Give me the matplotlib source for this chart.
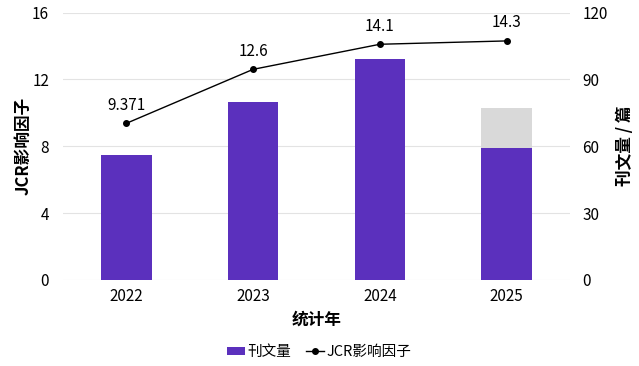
import matplotlib
matplotlib.use("Agg")
import matplotlib.pyplot as plt
import numpy as np

plt.rcParams['font.family'] = ['Noto Sans CJK SC', 'DejaVu Sans']

years = ["2022", "2023", "2024", "2025"]
articles = [56, 80, 99, 59]
articles_extra = [0, 0, 0, 18]
jcr_if = [9.371, 12.6, 14.1, 14.3]
jcr_labels = ["9.371", "12.6", "14.1", "14.3"]

purple = "#5B30BD"
grey = "#D9D9D9"

fig = plt.figure(figsize=(6.39, 3.66), dpi=100)
ax = fig.add_axes([63/639, 1-280/366, 507/639, 267.5/366])
ax2 = ax.twinx()

x = np.arange(len(years))
ax2.bar(x, articles, width=0.4, color=purple, label="刊文量", zorder=2)
ax2.bar(x, articles_extra, width=0.4, bottom=articles, color=grey, zorder=2)
ax2.set_ylim(0, 120)
ax2.set_yticks([0, 30, 60, 90, 120])

ax.set_zorder(ax2.get_zorder() + 1)
ax.patch.set_visible(False)
ln, = ax.plot(x, jcr_if, color="black", lw=1, marker="o", ms=4, label="JCR影响因子", zorder=3)
for xi, yi, t in zip(x, jcr_if, jcr_labels):
    ax.annotate(t, (xi, yi), xytext=(0, 7), textcoords="offset points",
                ha="center", va="bottom", fontsize=11)
ax.set_ylim(0, 16)
ax.set_yticks([0, 4, 8, 12, 16])
ax.set_xlim(-0.5, 3.5)
ax.set_xticks(x)
ax.set_xticklabels(years)

for a in (ax, ax2):
    for s in a.spines.values():
        s.set_visible(False)
    a.tick_params(length=0, labelsize=11)
ax.tick_params(axis='y', pad=10)
ax2.tick_params(axis='y', pad=9)
ax.tick_params(axis='x', pad=6)

ax2.yaxis.grid(True, color="#E3E3E3", lw=0.8, zorder=0)
ax2.set_axisbelow(True)

ax.set_ylabel("JCR影响因子", fontsize=12, fontweight="bold", labelpad=0)
ax2.set_ylabel("刊文量 / 篇", fontsize=12, fontweight="bold", labelpad=6)
ax.set_xlabel("统计年", fontsize=12, fontweight="bold", labelpad=4)

handles = [ax2.patches[0], ln]
fig.legend(handles, ["刊文量", "JCR影响因子"], loc="center", bbox_to_anchor=(0.5, 1-352/366),
           ncol=2, frameon=False, fontsize=10.5, handlelength=1.2, handleheight=0.5,
           handletextpad=0.2, columnspacing=1.0)

fig.savefig("out.png", dpi=100)
